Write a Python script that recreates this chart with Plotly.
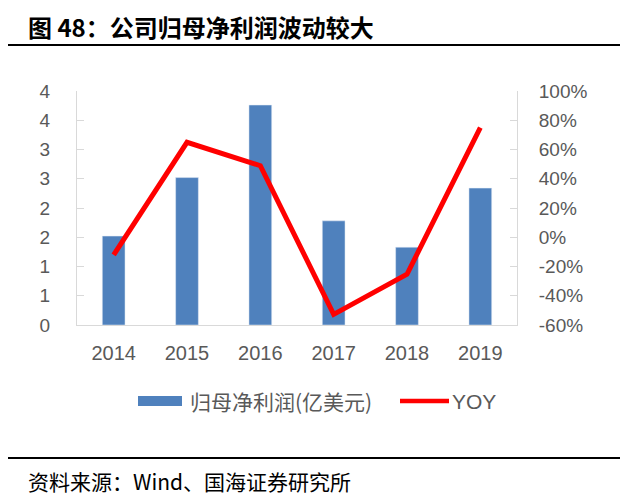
import plotly.graph_objects as go

years = ["2014", "2015", "2016", "2017", "2018", "2019"]
profit = [1.52, 2.52, 3.76, 1.78, 1.33, 2.34]          # 归母净利润(亿美元)
yoy = [-12.1, 64.9, 48.9, -52.7, -25.3, 74.9]          # YOY, %

left_tickvals = [0, 0.5, 1.0, 1.5, 2.0, 2.5, 3.0, 3.5, 4.0]
left_ticktext = ["0", "1", "1", "2", "2", "3", "3", "4", "4"]
right_tickvals = [-60, -40, -20, 0, 20, 40, 60, 80, 100]
right_ticktext = ["-60%", "-40%", "-20%", "0%", "20%", "40%", "60%", "80%", "100%"]

# the page body has an 8px margin, so the figure is drawn 8px smaller and
# reference pixel positions are shifted by OFF
OFF = 8
W, H = 640 - OFF, 495 - OFF
L, R, T, B = 77 - OFF, 123, 91 - OFF, 170
PW, PH = W - L - R, H - T - B

def px(x):
    return (x - OFF - L) / PW

def py(y):
    return (H - B - (y - OFF)) / PH

BLUE = "#4F81BD"
RED = "#FF0000"
GRAY = "#595959"
AXIS = "#D9D9D9"
FONT = "Liberation Sans, Arial, sans-serif"
CJK = "Noto Sans CJK SC, sans-serif"

fig = go.Figure()
fig.add_trace(go.Bar(x=years, y=profit, marker_color=BLUE, width=0.31,
                     name="归母净利润(亿美元)", showlegend=False))
fig.add_trace(go.Scatter(x=years, y=yoy, mode="lines", yaxis="y2",
                         line=dict(color=RED, width=5), name="YOY",
                         showlegend=False))

fig.update_layout(
    width=W, height=H,
    margin=dict(l=L, r=R, t=T, b=B),
    paper_bgcolor="white", plot_bgcolor="white",
    font=dict(family=FONT, size=19, color=GRAY),
    xaxis=dict(type="category", showline=True, linecolor=AXIS, linewidth=1,
               ticks="", showgrid=False, zeroline=False,
               tickfont=dict(size=20, color=GRAY), ticklabelstandoff=10),
    yaxis=dict(range=[0, 4], tickvals=left_tickvals, ticktext=left_ticktext,
               showline=True, linecolor=AXIS, linewidth=1, ticks="inside",
               ticklen=7, tickcolor=AXIS, showgrid=False, zeroline=False,
               tickfont=dict(size=19, color=GRAY), ticklabelstandoff=22),
    yaxis2=dict(range=[-60, 100], tickvals=right_tickvals,
                ticktext=right_ticktext,
                overlaying="y", side="right", showline=True, linecolor=AXIS,
                linewidth=1, ticks="inside", ticklen=7, tickcolor=AXIS,
                showgrid=False, zeroline=False,
                tickfont=dict(size=19, color=GRAY), ticklabelstandoff=17),
)

shapes = [
    # title rule and source rule
    dict(type="line", xref="paper", yref="paper", x0=px(0), x1=px(620),
         y0=py(45), y1=py(45), line=dict(color="black", width=2)),
    dict(type="line", xref="paper", yref="paper", x0=px(0), x1=px(620),
         y0=py(458), y1=py(458), line=dict(color="black", width=2)),
    # legend symbols
    dict(type="rect", xref="paper", yref="paper", x0=px(138), x1=px(182),
         y0=py(406), y1=py(396), fillcolor=BLUE, line=dict(width=0)),
    dict(type="line", xref="paper", yref="paper", x0=px(400), x1=px(449),
         y0=py(401), y1=py(401), line=dict(color=RED, width=4.5)),
]

annotations = [
    dict(text="<b>图 48：公司归母净利润波动较大</b>", xref="paper", yref="paper",
         x=px(26), y=py(26), xanchor="left", yanchor="middle", showarrow=False,
         font=dict(family=CJK, size=24, color="black")),
    dict(text="归母净利润(亿美元)", xref="paper", yref="paper",
         x=px(188), y=py(401), xanchor="left", yanchor="middle", showarrow=False,
         font=dict(family=CJK, size=21, color=GRAY)),
    dict(text="YOY", xref="paper", yref="paper",
         x=px(450), y=py(401), xanchor="left", yanchor="middle", showarrow=False,
         font=dict(family=FONT, size=21, color=GRAY)),
    dict(text="资料来源：Wind、国海证券研究所", xref="paper", yref="paper",
         x=px(26), y=py(481), xanchor="left", yanchor="middle", showarrow=False,
         font=dict(family=CJK, size=21, color="black")),
]

fig.update_layout(shapes=shapes, annotations=annotations)
fig.write_html("out.html")
